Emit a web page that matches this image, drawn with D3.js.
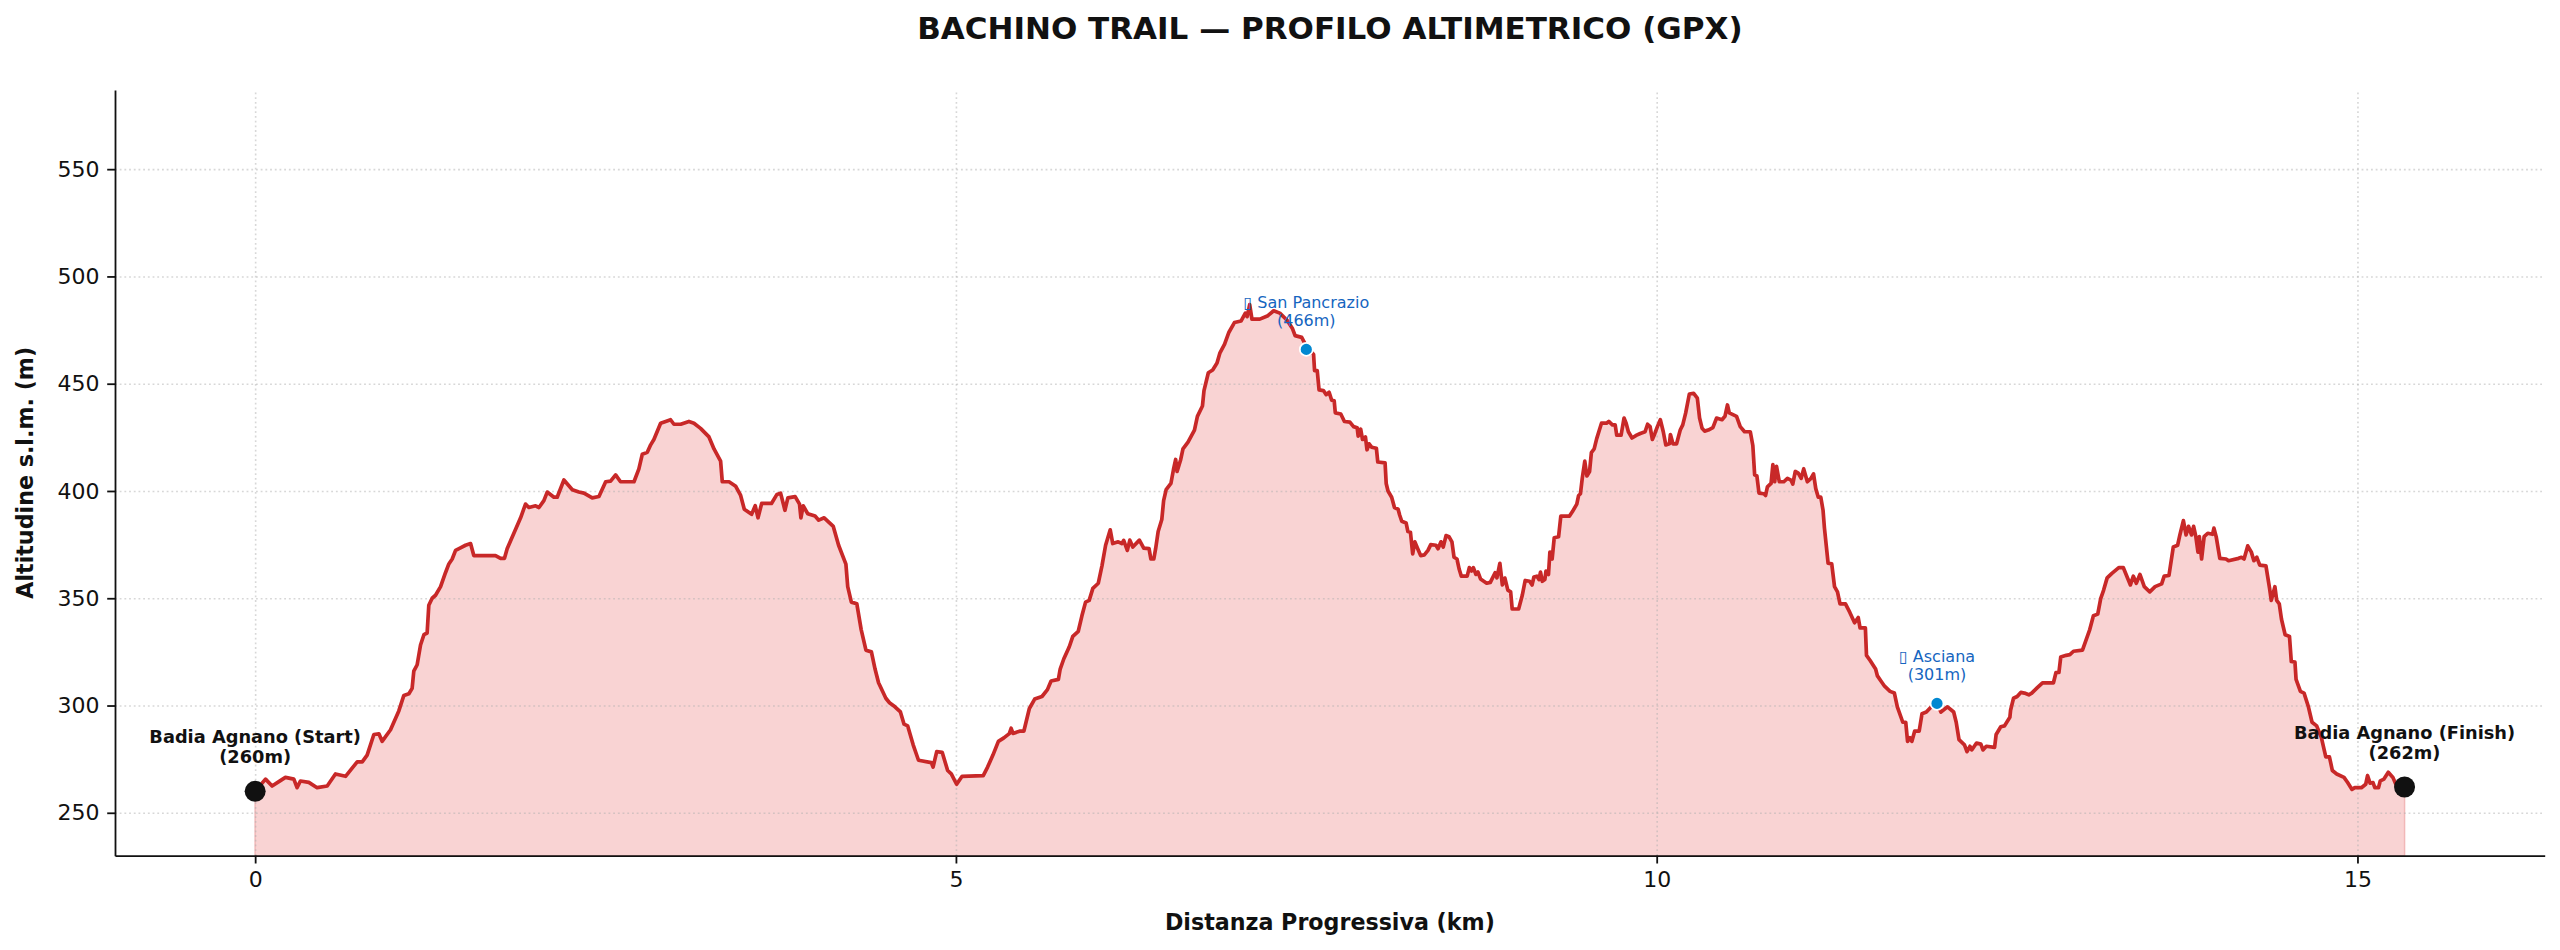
<!DOCTYPE html>
<html>
<head>
<meta charset="utf-8">
<script src="https://cdn.jsdelivr.net/npm/d3@7/dist/d3.min.js"></script>
<style>
  body { margin: 0; background: #fff; }
  svg text { font-family: "DejaVu Sans", sans-serif; }
  .grid line { stroke: #b0b0b0; stroke-opacity: 0.5; stroke-width: 1.6; stroke-dasharray: 1.8, 2.9; }
  .grid .domain { display: none; }
  .axis path, .axis line { stroke: #111; stroke-width: 1.8; }
  .axis text { font-size: 22px; fill: #111; }
</style>
</head>
<body>
<div class="chart"></div>
<script>
// elevation profile (km, m)
var distKm = [
  0, 0.074, 0.121, 0.18, 0.216, 0.276, 0.299, 0.323, 0.383, 0.442, 0.514, 0.573, 0.645, 0.692, 0.728, 0.764,
  0.799, 0.847, 0.883, 0.906, 0.966, 1.025, 1.061, 1.097, 1.12, 1.132, 1.156, 1.18, 1.204, 1.227, 1.239, 1.263,
  1.287, 1.323, 1.358, 1.382, 1.406, 1.43, 1.465, 1.501, 1.537, 1.56, 1.715, 1.751, 1.779, 1.798, 1.846, 1.894,
  1.929, 1.953, 2.001, 2.025, 2.06, 2.084, 2.132, 2.155, 2.203, 2.263, 2.31, 2.346, 2.405, 2.453, 2.501, 2.536,
  2.572, 2.607, 2.655, 2.703, 2.738, 2.762, 2.798, 2.822, 2.845, 2.893, 2.929, 2.964, 2.988, 3.036, 3.095, 3.131,
  3.178, 3.238, 3.274, 3.321, 3.333, 3.381, 3.429, 3.464, 3.49, 3.542, 3.568, 3.588, 3.614, 3.684, 3.723, 3.749,
  3.78, 3.801, 3.853, 3.884, 3.894, 3.91, 3.943, 3.995, 4.021, 4.06, 4.125, 4.163, 4.215, 4.228, 4.254, 4.293,
  4.324, 4.358, 4.397, 4.423, 4.448, 4.5, 4.526, 4.565, 4.604, 4.63, 4.656, 4.695, 4.733, 4.824, 4.837, 4.863,
  4.902, 4.941, 4.967, 5.005, 5.044, 5.195, 5.226, 5.264, 5.303, 5.342, 5.381, 5.394, 5.407, 5.459, 5.485, 5.524,
  5.562, 5.614, 5.653, 5.679, 5.731, 5.744, 5.77, 5.809, 5.834, 5.873, 5.899, 5.925, 5.951, 5.977, 6.016, 6.042,
  6.068, 6.101, 6.119, 6.158, 6.184, 6.197, 6.223, 6.241, 6.262, 6.309, 6.34, 6.378, 6.391, 6.412, 6.425, 6.443,
  6.469, 6.482, 6.5, 6.534, 6.552, 6.568, 6.578, 6.604, 6.62, 6.656, 6.702, 6.723, 6.759, 6.77, 6.801, 6.832,
  6.863, 6.884, 6.917, 6.948, 6.987, 7.034, 7.065, 7.078, 7.096, 7.112, 7.168, 7.226, 7.267, 7.311, 7.363, 7.402,
  7.42, 7.467, 7.5, 7.552, 7.559, 7.578, 7.591, 7.622, 7.642, 7.663, 7.681, 7.699, 7.707, 7.746, 7.772, 7.811,
  7.837, 7.863, 7.87, 7.888, 7.901, 7.922, 7.933, 7.948, 7.966, 8.0, 8.01, 8.062, 8.07, 8.083, 8.109, 8.129,
  8.155, 8.166, 8.181, 8.212, 8.225, 8.243, 8.259, 8.274, 8.295, 8.316, 8.342, 8.368, 8.388, 8.425, 8.44, 8.461,
  8.477, 8.497, 8.518, 8.539, 8.554, 8.575, 8.591, 8.606, 8.648, 8.663, 8.679, 8.692, 8.71, 8.725, 8.743, 8.787,
  8.813, 8.847, 8.86, 8.881, 8.899, 8.917, 8.938, 8.958, 8.969, 9.015, 9.041, 9.062, 9.093, 9.111, 9.124, 9.145,
  9.16, 9.171, 9.184, 9.202, 9.21, 9.228, 9.238, 9.254, 9.269, 9.3, 9.316, 9.378, 9.399, 9.43, 9.443, 9.456,
  9.469, 9.487, 9.502, 9.521, 9.534, 9.554, 9.572, 9.606, 9.642, 9.658, 9.684, 9.704, 9.715, 9.746, 9.767, 9.782,
  9.798, 9.824, 9.857, 9.883, 9.917, 9.935, 9.953, 9.969, 9.987, 10.005, 10.026, 10.047, 10.065, 10.091, 10.098, 10.116,
  10.142, 10.168, 10.186, 10.207, 10.233, 10.264, 10.29, 10.306, 10.324, 10.342, 10.368, 10.401, 10.427, 10.466, 10.487, 10.505,
  10.518, 10.544, 10.57, 10.596, 10.627, 10.668, 10.686, 10.699, 10.715, 10.73, 10.764, 10.777, 10.79, 10.816, 10.829, 10.842,
  10.855, 10.875, 10.907, 10.933, 10.958, 10.971, 10.989, 11.01, 11.031, 11.049, 11.075, 11.101, 11.119, 11.135, 11.153, 11.171,
  11.187, 11.197, 11.223, 11.249, 11.269, 11.29, 11.308, 11.347, 11.378, 11.412, 11.438, 11.451, 11.489, 11.497, 11.523, 11.562,
  11.575, 11.6, 11.626, 11.665, 11.696, 11.717, 11.756, 11.777, 11.79, 11.808, 11.821, 11.841, 11.873, 11.893, 11.924, 11.963,
  12.002, 12.028, 12.075, 12.119, 12.137, 12.157, 12.196, 12.214, 12.235, 12.248, 12.282, 12.313, 12.328, 12.352, 12.411, 12.422,
  12.455, 12.481, 12.52, 12.525, 12.546, 12.572, 12.598, 12.624, 12.655, 12.676, 12.714, 12.753, 12.831, 12.849, 12.87, 12.883,
  12.922, 12.948, 12.974, 13.038, 13.064, 13.09, 13.116, 13.147, 13.168, 13.189, 13.214, 13.246, 13.297, 13.329, 13.38, 13.401,
  13.422, 13.448, 13.479, 13.518, 13.556, 13.603, 13.621, 13.655, 13.686, 13.717, 13.733, 13.758, 13.777, 13.795, 13.816, 13.831,
  13.847, 13.862, 13.872, 13.888, 13.906, 13.932, 13.966, 13.976, 13.992, 14.018, 14.062, 14.08, 14.152, 14.173, 14.191, 14.217,
  14.243, 14.261, 14.282, 14.303, 14.347, 14.373, 14.385, 14.411, 14.424, 14.442, 14.458, 14.484, 14.515, 14.528, 14.554, 14.562,
  14.593, 14.619, 14.65, 14.676, 14.709, 14.743, 14.774, 14.8, 14.821, 14.852, 14.904, 14.93, 14.961, 14.981, 15.028, 15.059,
  15.072, 15.09, 15.111, 15.124, 15.15, 15.163, 15.189, 15.22, 15.253, 15.279, 15.336
];

var elevM = [
  260, 265.7, 262.5, 265, 266.5, 265.7, 261.7, 264.8, 264.2, 261.7, 262.5, 268.1, 267, 270.8, 273.7, 273.7,
  276.9, 286.5, 286.8, 283.3, 288.7, 297.5, 304.7, 305.5, 308, 316, 319, 328.2, 333, 333.8, 346.7, 350,
  351.4, 355.4, 361.9, 366, 368.3, 372.3, 373.5, 374.7, 375.5, 369.9, 369.9, 368.6, 368.6, 373.1, 380.3, 387.5,
  393.9, 392.3, 393.1, 392.3, 395.5, 399.5, 397.1, 397.1, 405.1, 400.6, 399.5, 399, 396.8, 397.4, 404.3, 404.6,
  407.5, 404.3, 404.3, 404.3, 410.3, 417.1, 418, 421.5, 424, 431.6, 432.4, 433.2, 431.1, 431.1, 432.4, 431.6,
  429.2, 425.2, 419.6, 413.9, 404.3, 404.3, 402.2, 397.9, 391.5, 389.1, 393.1, 387.5, 394.2, 394.2, 398.4, 399,
  391, 396.8, 397.4, 393.9, 387.5, 393.1, 389.4, 388.3, 386.4, 387.5, 383.5, 374.7, 365.9, 355.4, 348.2, 347.4,
  335.4, 325.8, 325, 317, 310.6, 303.4, 301.3, 299.4, 297, 291.3, 290.5, 281.7, 274.5, 273.4, 271.3, 278.5,
  278.2, 269.7, 268.1, 263.3, 267, 267.3, 271.3, 276.9, 283.3, 284.9, 286.9, 289.4, 287, 288.1, 288.1, 298.6,
  303, 304.2, 307.4, 311.4, 312.2, 317, 321.8, 327.4, 332.2, 334.6, 341.8, 348.2, 349, 354.6, 357, 365.1,
  374.7, 381.9, 375.5, 376.3, 375.5, 377, 372.3, 377.1, 373.9, 377.1, 373.4, 373.1, 368.3, 368.3, 373.1, 381.1,
  386.7, 395.5, 400.6, 403.5, 409.9, 414.7, 409.1, 414.7, 419.6, 422.8, 428.4, 434.8, 439.6, 446.8, 455.1, 456.4,
  459.6, 464.4, 468.4, 474, 478.5, 479.2, 482.9, 481.3, 486.9, 480.1, 480.1, 481.7, 484, 482.9, 479.6, 475.6,
  472.4, 471.6, 467.5, 463.6, 456.1, 456.1, 447.1, 446.8, 444.9, 446, 442.3, 442, 436.4, 435.9, 432.4, 432.1,
  430, 429.5, 425.6, 428.8, 424, 425.2, 419.2, 422, 420.4, 419.9, 413.5, 413.1, 403.5, 400, 397.1, 392.3,
  391.5, 388.8, 385.9, 385.1, 381.1, 380.8, 370.7, 376.3, 373.1, 369.9, 370.2, 372.3, 375, 374.7, 373.1, 376.3,
  373.9, 379.2, 378.7, 376.3, 369.1, 368.3, 363.5, 360.3, 360.3, 364.3, 362.7, 364.3, 361.1, 362.2, 359, 357,
  357.4, 361.9, 359.5, 366.3, 356.2, 359.4, 353.8, 353, 345, 345, 351.4, 358.3, 357.9, 356.2, 359.9, 360.3,
  358.7, 362.2, 357.9, 358.7, 362.7, 361.1, 371.5, 368.3, 378.2, 378.7, 388.3, 388.3, 390.4, 393.9, 397.9, 398.7,
  405.9, 413.9, 407, 409.1, 417.9, 419.6, 424.4, 431.6, 431.6, 432.4, 430.8, 430.8, 426, 426, 434, 431.6,
  427.6, 424.7, 426, 426.8, 427.6, 431.1, 430, 424, 426.8, 430, 433.2, 427.6, 421.5, 422, 426.3, 422,
  422, 428.4, 430.8, 436.4, 445.2, 445.5, 443.3, 434, 429.2, 427.9, 428.4, 429.5, 434, 433.2, 434.8, 440.1,
  436.4, 435.6, 434.8, 430, 427.6, 427.6, 421.2, 407.5, 407, 399, 398.7, 397.9, 401.9, 403.5, 412.3, 404.3,
  411.5, 404.3, 404.3, 405.9, 405.1, 403.2, 409.1, 408.3, 405.9, 410.3, 404.3, 405.9, 408, 401.1, 397.1, 397.1,
  391, 382.7, 366.3, 366, 355.4, 353, 347.4, 347.4, 343.4, 338.6, 341, 336.2, 336.2, 323.4, 321, 317,
  313.8, 311.4, 309, 306.6, 305.8, 299.4, 292.2, 292.2, 283.3, 285, 283.3, 288.1, 288.1, 296.2, 297, 299.7,
  301, 297, 299.4, 297, 292.2, 284.1, 281.7, 278.5, 281, 279.3, 282.5, 282, 279.3, 281, 280.5, 286.5,
  290.1, 290.5, 294.5, 297.8, 303.4, 304.2, 306.1, 305.8, 305, 305.8, 308.2, 310.6, 310.6, 315.4, 315.4, 322.6,
  323.4, 323.7, 325.3, 325.8, 330.6, 335.4, 341.8, 342.6, 349.8, 353.8, 359.5, 361.5, 364.3, 364.3, 356.2, 360.3,
  357, 361.1, 355.4, 353, 355.4, 356.7, 360.3, 360.6, 373.9, 374.7, 379.5, 386.2, 379.5, 383.5, 379.5, 383.5,
  378.7, 371.5, 378.7, 368.3, 378.7, 380.3, 379.8, 382.7, 378.7, 368.6, 368.3, 367.5, 368.6, 369.1, 368.3, 374.4,
  371.5, 367.5, 369.1, 365.4, 365.1, 354.6, 349, 355.4, 349, 347.4, 340.2, 333, 332.2, 320.5, 320.2, 312.2,
  306.6, 305.8, 299.4, 292.2, 290.5, 284.9, 276.1, 276.1, 269.7, 268.1, 266.5, 264.1, 260.9, 261.7, 261.7, 263.3,
  267.3, 263.8, 264.1, 261.7, 261.7, 264.9, 265.7, 268.9, 266.5, 262.5, 262.2
];

// axis ticks
var xTicks = [0, 5, 10, 15];
var yTicks = [250, 300, 350, 400, 450, 500, 550];

// points of interest along the trail (the pin glyph shows as an empty box in the original)
var poiNames = ["\u25AF San Pancrazio", "\u25AF Asciana"];
var poiKm = [7.5, 12.0];
var poiElev = [466, 301];

// start / finish
var endNames = ["Badia Agnano (Start)", "Badia Agnano (Finish)"];
var endKm = [0, 15.336];
var endElev = [260, 262];

var svgWidth = 2560;
var svgHeight = 950;

var margin = {
  top: 90,
  right: 15.3,
  bottom: 94.3,
  left: 115
};

var width = svgWidth - margin.left - margin.right;
var height = svgHeight - margin.top - margin.bottom;

var svg = d3
  .select(".chart")
  .append("svg")
  .attr("width", svgWidth)
  .attr("height", svgHeight);

var chartGroup = svg.append("g")
  .attr("transform", `translate(${margin.left}, ${margin.top})`);

var data = distKm.map((d, i) => ({ km: d, ele: elevM[i] }));

// limits: 1 km either side, 30 m below the lowest and 100 m above the highest point
var xLinearScale = d3.scaleLinear()
  .domain([-1, d3.max(distKm) + 1])
  .range([0, width]);

var yLinearScale = d3.scaleLinear()
  .domain([d3.min(elevM) - 30, d3.max(elevM) + 100])
  .range([height, 0]);

// filled area under the profile
var area = d3.area()
  .x(d => xLinearScale(d.km))
  .y0(yLinearScale(yLinearScale.domain()[0]))
  .y1(d => yLinearScale(d.ele));

chartGroup.append("path")
  .datum(data)
  .attr("d", area)
  .attr("fill", "#f9d3d3")
  .attr("stroke", "#f2b8b8")
  .attr("stroke-width", 1.5);

// dotted grid sits above the fill, below the line
chartGroup.append("g")
  .attr("class", "grid")
  .attr("transform", `translate(0, ${height})`)
  .call(d3.axisBottom(xLinearScale).tickValues(xTicks).tickSize(-height).tickFormat(""));

chartGroup.append("g")
  .attr("class", "grid")
  .call(d3.axisLeft(yLinearScale).tickValues(yTicks).tickSize(-width).tickFormat(""));

var line = d3.line()
  .x(d => xLinearScale(d.km))
  .y(d => yLinearScale(d.ele));

chartGroup.append("path")
  .datum(data)
  .attr("d", line)
  .attr("fill", "none")
  .attr("stroke", "#c82828")
  .attr("stroke-width", 3.7)
  .attr("stroke-linejoin", "round");

// axes (left and bottom spines only)
var bottomAxis = d3.axisBottom(xLinearScale)
  .tickValues(xTicks)
  .tickSize(7.8)
  .tickSizeOuter(0)
  .tickPadding(7.8)
  .tickFormat(d3.format("d"));

var leftAxis = d3.axisLeft(yLinearScale)
  .tickValues(yTicks)
  .tickSize(7.8)
  .tickSizeOuter(0)
  .tickPadding(7.8)
  .tickFormat(d3.format("d"));

chartGroup.append("g")
  .attr("class", "axis")
  .attr("transform", `translate(0, ${height})`)
  .call(bottomAxis);

chartGroup.append("g")
  .attr("class", "axis")
  .call(leftAxis);

// POI markers and labels
poiKm.forEach(function(km, i) {
  var cx = xLinearScale(km);
  var cy = yLinearScale(poiElev[i]);

  chartGroup.append("circle")
    .attr("cx", cx)
    .attr("cy", cy)
    .attr("r", 6.5)
    .attr("fill", "#0288d1")
    .attr("stroke", "#fff")
    .attr("stroke-width", 1.8);

  var label = chartGroup.append("text")
    .attr("x", cx)
    .attr("y", cy - 23)
    .attr("text-anchor", "middle")
    .attr("font-size", "16px")
    .attr("fill", "#1565c0");

  label.append("tspan")
    .attr("x", cx)
    .attr("dy", -18)
    .text(poiNames[i]);

  label.append("tspan")
    .attr("x", cx)
    .attr("dy", 18)
    .text(`(${poiElev[i]}m)`);
});

// start / finish markers
endKm.forEach(function(km, i) {
  var cx = xLinearScale(km);
  var cy = yLinearScale(endElev[i]);

  chartGroup.append("circle")
    .attr("cx", cx)
    .attr("cy", cy)
    .attr("r", 10.5)
    .attr("fill", "#111");

  var label = chartGroup.append("text")
    .attr("x", cx)
    .attr("y", cy - 28)
    .attr("text-anchor", "middle")
    .attr("font-size", "17.8px")
    .attr("font-weight", "bold")
    .attr("fill", "#111");

  label.append("tspan")
    .attr("x", cx)
    .attr("dy", -20.5)
    .text(endNames[i]);

  label.append("tspan")
    .attr("x", cx)
    .attr("dy", 20.5)
    .text(`(${endElev[i]}m)`);
});

// title and axis labels
svg.append("text")
  .attr("x", margin.left + width / 2)
  .attr("y", 39)
  .attr("text-anchor", "middle")
  .attr("font-size", "31px")
  .attr("font-weight", "bold")
  .attr("fill", "#111")
  .text("BACHINO TRAIL \u2014 PROFILO ALTIMETRICO (GPX)");

svg.append("text")
  .attr("x", margin.left + width / 2)
  .attr("y", 930)
  .attr("text-anchor", "middle")
  .attr("font-size", "22.2px")
  .attr("font-weight", "bold")
  .attr("fill", "#111")
  .text("Distanza Progressiva (km)");

svg.append("text")
  .attr("transform", "rotate(-90)")
  .attr("x", -(margin.top + height / 2))
  .attr("y", 33)
  .attr("text-anchor", "middle")
  .attr("font-size", "22.2px")
  .attr("font-weight", "bold")
  .attr("fill", "#111")
  .text("Altitudine s.l.m. (m)");
</script>
</body>
</html>
